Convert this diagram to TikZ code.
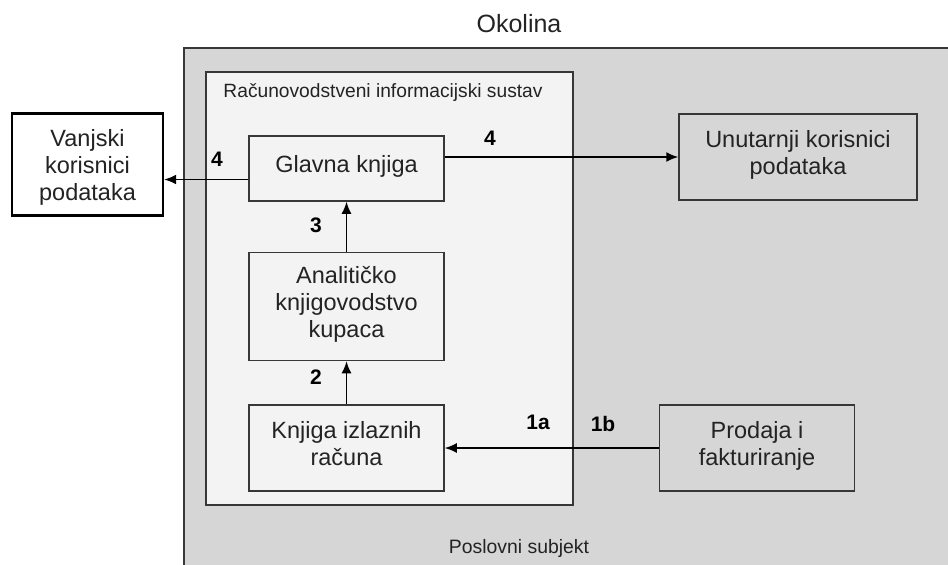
\documentclass[tikz,border=0pt]{standalone}
\usepackage{fontspec}
\setmainfont{Liberation Sans}
\usepackage{xcolor}
\usetikzlibrary{arrows.meta,positioning}
\definecolor{envgray}{RGB}{214,214,214}
\definecolor{sysgray}{RGB}{243,243,243}
\definecolor{edgegray}{RGB}{55,55,55}
\definecolor{textgray}{RGB}{35,35,35}

\begin{document}
\begin{tikzpicture}[x=1pt, y=-1pt,
  box/.style={draw=edgegray, fill=sysgray, line width=1.5pt, minimum width=195pt, minimum height=86pt, align=center, inner sep=2pt, text depth=10pt, text=textgray, font=\fontsize{23.5}{27}\selectfont},
  envbox/.style={box, fill=envgray},
  extbox/.style={box, draw=black, fill=white, line width=2.4pt, minimum width=151pt, minimum height=102pt, text depth=0pt},
  num/.style={font=\bfseries\fontsize{21}{24}\selectfont},
  ptr/.style={-{Latex[length=12pt,width=10pt]}, line width=1.7pt}
]
  \useasboundingbox (0,0) rectangle (948,565);
  % environment and accounting system
  \draw[edgegray, line width=1.5pt, fill=envgray] (184,48) rectangle (960,580);
  \draw[edgegray, line width=1.5pt, fill=sysgray] (206,72) rectangle (573,505);
  \node[font=\fontsize{25}{28}\selectfont, text=textgray] (okolina) at (519,24) {Okolina};
  \node[font=\fontsize{19.4}{22}\selectfont, text=textgray] (subjekt) at (519,548) {Poslovni subjekt};
  \node[font=\fontsize{19.2}{22}\selectfont, text=textgray] (sustav) at (383,93) {Računovodstveni informacijski sustav};

  % boxes
  \node[box, minimum height=65pt] (glavna) at (346.5,168.5) {Glavna knjiga};
  \node[box, minimum height=108pt, below=50pt of glavna] (analit) {Analitičko\\knjigovodstvo\\kupaca};
  \node[box, below=43pt of analit] (izlazni) {Knjiga izlaznih\\računa};
  \node[envbox, right=214pt of izlazni] (prodaja) {Prodaja i\\fakturiranje};
  \node[envbox, minimum width=238pt] (unutarnji) at (798,157) {Unutarnji korisnici\\podataka};
  \node[extbox] (vanjski) at (87.5,164.5) {Vanjski\\korisnici\\podataka};

  % flows
  \draw[ptr] (prodaja) -- (izlazni);
  \draw[ptr] (izlazni) -- (analit);
  \draw[ptr] (analit) -- (glavna);
  \draw[ptr] (glavna.east |- unutarnji.west) -- (unutarnji.west);
  \draw[ptr] ([yshift=-11pt]glavna.west) -- ([yshift=-11pt]glavna.west -| vanjski.east);

  \node[num] (n1a) at (538,422) {1a};
  \node[num] (n1b) at (603,424) {1b};
  \node[num] (n2) at (316,377) {2};
  \node[num] (n3) at (316,225) {3};
  \node[num] (n4l) at (217,159) {4};
  \node[num] (n4r) at (490,138) {4};
\end{tikzpicture}
\end{document}
